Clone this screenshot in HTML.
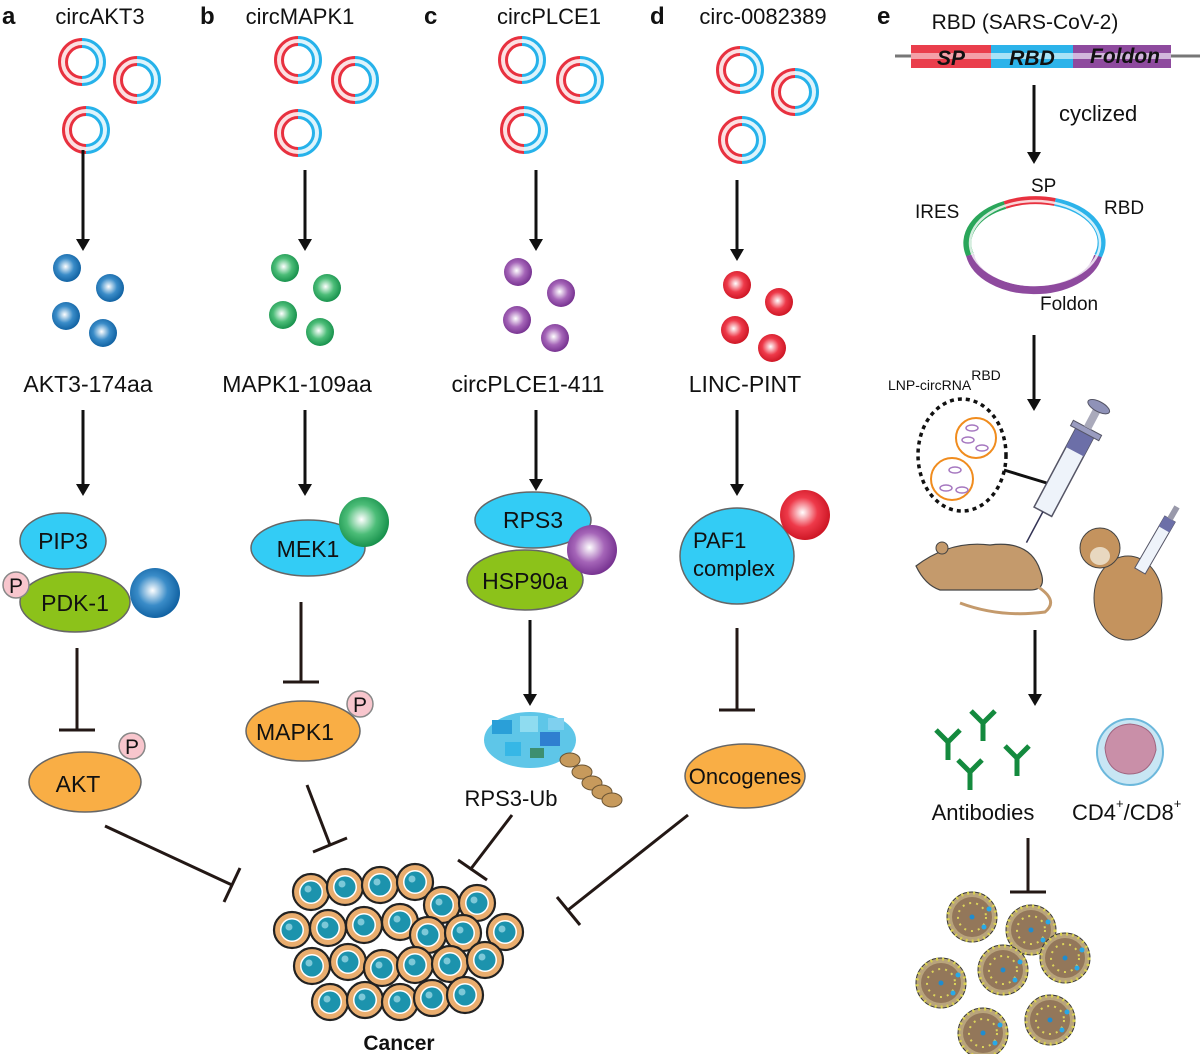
<!DOCTYPE html>
<html><head><meta charset="utf-8"><style>
html,body{margin:0;padding:0;background:#fff}
svg{display:block}
text{font-family:"Liberation Sans",sans-serif;fill:#111}
</style></head><body>
<svg width="1200" height="1054" viewBox="0 0 1200 1054" xmlns="http://www.w3.org/2000/svg">
<defs>
<marker id="ah" markerWidth="12" markerHeight="14" refX="6" refY="7" orient="auto" markerUnits="userSpaceOnUse" viewBox="0 0 12 14"><path d="M0,0 L12,7 L0,14 z" fill="#111"/></marker>
<radialGradient id="gb" cx="0.45" cy="0.45" r="0.6"><stop offset="0" stop-color="#fff"/><stop offset="0.5" stop-color="#3a8cc8"/><stop offset="1" stop-color="#0a5b9c"/></radialGradient>
<radialGradient id="gg" cx="0.45" cy="0.45" r="0.6"><stop offset="0" stop-color="#fff"/><stop offset="0.5" stop-color="#4cbd78"/><stop offset="1" stop-color="#0f8a45"/></radialGradient>
<radialGradient id="gp" cx="0.45" cy="0.45" r="0.6"><stop offset="0" stop-color="#fff"/><stop offset="0.5" stop-color="#a565b8"/><stop offset="1" stop-color="#6f2a8a"/></radialGradient>
<radialGradient id="gr" cx="0.45" cy="0.45" r="0.6"><stop offset="0" stop-color="#fff"/><stop offset="0.5" stop-color="#ee3a4a"/><stop offset="1" stop-color="#c8101e"/></radialGradient>
<g id="ring">
<path d="M0,-19 A19,19 0 0,0 0,19" fill="none" stroke="#e8313f" stroke-width="10"/>
<path d="M0,-19 A19,19 0 0,1 0,19" fill="none" stroke="#26b2ea" stroke-width="10"/>
<circle r="19" fill="none" stroke="#fff" stroke-width="4" opacity="0.85"/>
</g>
<g id="cell"><circle r="18" fill="#e9ad6e" stroke="#222" stroke-width="2.2"/><circle r="12" fill="#fff"/><circle r="10.5" fill="#1c93ad"/><circle cx="-3" cy="-3" r="3.5" fill="#7cc8d8"/></g>
<g id="vir"><circle r="25" fill="#b9a47c" stroke="#333" stroke-width="1"/><circle r="20" fill="#93775a"/><circle r="24" fill="none" stroke="#d8d050" stroke-width="3" stroke-dasharray="2 4"/><circle r="14" fill="none" stroke="#dcd45a" stroke-width="2" stroke-dasharray="2 5"/><circle r="2.5" fill="#1f8ccf"/><circle cx="17" cy="-8" r="2.5" fill="#27a9e8"/><circle cx="12" cy="10" r="2.5" fill="#27a9e8"/></g>
<g id="ab" fill="none" stroke="#148a3e" stroke-width="5"><path d="M0,0 L0,18 M0,0 L-12,-12 M0,0 L12,-12"/></g>
</defs>

<text x="2" y="24" font-size="24" font-weight="bold">a</text>
<text x="200" y="24" font-size="24" font-weight="bold">b</text>
<text x="424" y="24" font-size="24" font-weight="bold">c</text>
<text x="650" y="24" font-size="24" font-weight="bold">d</text>
<text x="877" y="24" font-size="24" font-weight="bold">e</text>

<g font-size="22" text-anchor="middle">
<text x="100" y="24">circAKT3</text>
<text x="300" y="24">circMAPK1</text>
<text x="549" y="24">circPLCE1</text>
<text x="763" y="24">circ-0082389</text>
</g>

<use href="#ring" x="82" y="62"/><use href="#ring" x="137" y="80"/><use href="#ring" x="86" y="130"/>
<use href="#ring" x="298" y="60"/><use href="#ring" x="355" y="80"/><use href="#ring" x="298" y="133"/>
<use href="#ring" x="522" y="60"/><use href="#ring" x="580" y="80"/><use href="#ring" x="524" y="130"/>
<use href="#ring" x="740" y="70"/><use href="#ring" x="795" y="92"/><use href="#ring" x="742" y="140"/>

<g stroke="#111" stroke-width="3" marker-end="url(#ah)">
<line x1="83" y1="150" x2="83" y2="245"/>
<line x1="305" y1="170" x2="305" y2="245"/>
<line x1="536" y1="170" x2="536" y2="245"/>
<line x1="737" y1="180" x2="737" y2="255"/>
<line x1="83" y1="410" x2="83" y2="490"/>
<line x1="305" y1="410" x2="305" y2="490"/>
<line x1="536" y1="410" x2="536" y2="485"/>
<line x1="737" y1="410" x2="737" y2="490"/>
<line x1="530" y1="620" x2="530" y2="700"/>
<line x1="1034" y1="85" x2="1034" y2="158"/>
<line x1="1034" y1="335" x2="1034" y2="405"/>
<line x1="1035" y1="630" x2="1035" y2="700"/>
</g>

<g>
<circle cx="67" cy="268" r="14" fill="url(#gb)"/><circle cx="110" cy="288" r="14" fill="url(#gb)"/><circle cx="66" cy="316" r="14" fill="url(#gb)"/><circle cx="103" cy="333" r="14" fill="url(#gb)"/>
<circle cx="285" cy="268" r="14" fill="url(#gg)"/><circle cx="327" cy="288" r="14" fill="url(#gg)"/><circle cx="283" cy="315" r="14" fill="url(#gg)"/><circle cx="320" cy="332" r="14" fill="url(#gg)"/>
<circle cx="518" cy="272" r="14" fill="url(#gp)"/><circle cx="561" cy="293" r="14" fill="url(#gp)"/><circle cx="517" cy="320" r="14" fill="url(#gp)"/><circle cx="555" cy="338" r="14" fill="url(#gp)"/>
<circle cx="737" cy="285" r="14" fill="url(#gr)"/><circle cx="779" cy="302" r="14" fill="url(#gr)"/><circle cx="735" cy="330" r="14" fill="url(#gr)"/><circle cx="772" cy="348" r="14" fill="url(#gr)"/>
</g>

<g font-size="23" text-anchor="middle">
<text x="88" y="392">AKT3-174aa</text>
<text x="297" y="392">MAPK1-109aa</text>
<text x="528" y="392">circPLCE1-411</text>
<text x="745" y="392">LINC-PINT</text>
</g>

<ellipse cx="63" cy="541" rx="43" ry="28" fill="#33ccf5" stroke="#666" stroke-width="1.5"/>
<text x="63" y="549" font-size="23" text-anchor="middle">PIP3</text>
<ellipse cx="75" cy="602" rx="55" ry="30" fill="#8cc21a" stroke="#666" stroke-width="1.5"/>
<text x="75" y="611" font-size="23" text-anchor="middle">PDK-1</text>
<circle cx="16" cy="585" r="13" fill="#f8c6cd" stroke="#888" stroke-width="1.5"/><text x="16" y="593" font-size="21" text-anchor="middle">P</text>
<circle cx="155" cy="593" r="25" fill="url(#gb)"/>
<g stroke="#231815" stroke-width="3"><line x1="77" y1="648" x2="77" y2="730"/><line x1="59" y1="730" x2="95" y2="730"/></g>
<ellipse cx="85" cy="782" rx="56" ry="30" fill="#f9ae45" stroke="#666" stroke-width="1.5"/>
<text x="78" y="792" font-size="23" text-anchor="middle">AKT</text>
<circle cx="132" cy="746" r="13" fill="#f8c6cd" stroke="#888" stroke-width="1.5"/><text x="132" y="754" font-size="21" text-anchor="middle">P</text>

<ellipse cx="308" cy="548" rx="57" ry="28" fill="#33ccf5" stroke="#666" stroke-width="1.5"/>
<text x="308" y="557" font-size="23" text-anchor="middle">MEK1</text>
<circle cx="364" cy="522" r="25" fill="url(#gg)"/>
<g stroke="#231815" stroke-width="3"><line x1="301" y1="602" x2="301" y2="682"/><line x1="283" y1="682" x2="319" y2="682"/></g>
<ellipse cx="303" cy="731" rx="57" ry="30" fill="#f9ae45" stroke="#666" stroke-width="1.5"/>
<text x="295" y="740" font-size="23" text-anchor="middle">MAPK1</text>
<circle cx="360" cy="704" r="13" fill="#f8c6cd" stroke="#888" stroke-width="1.5"/><text x="360" y="712" font-size="21" text-anchor="middle">P</text>

<ellipse cx="533" cy="520" rx="58" ry="28" fill="#33ccf5" stroke="#666" stroke-width="1.5"/>
<text x="533" y="528" font-size="23" text-anchor="middle">RPS3</text>
<ellipse cx="525" cy="580" rx="58" ry="30" fill="#8cc21a" stroke="#666" stroke-width="1.5"/>
<text x="525" y="589" font-size="23" text-anchor="middle">HSP90a</text>
<circle cx="592" cy="550" r="25" fill="url(#gp)"/>
<g>
<ellipse cx="530" cy="740" rx="46" ry="28" fill="#5ec6e8"/>
<rect x="492" y="720" width="20" height="14" fill="#2a9fd8"/><rect x="520" y="716" width="18" height="16" fill="#8fdcf0"/><rect x="540" y="732" width="20" height="14" fill="#2f7fd0"/><rect x="505" y="742" width="16" height="14" fill="#36b7e6"/><rect x="530" y="748" width="14" height="10" fill="#3d8f70"/><rect x="548" y="718" width="16" height="12" fill="#7fd0ef"/>
<g fill="#c79a5c" stroke="#6b5433" stroke-width="1"><ellipse cx="570" cy="760" rx="10" ry="7"/><ellipse cx="582" cy="772" rx="10" ry="7"/><ellipse cx="592" cy="783" rx="10" ry="7"/><ellipse cx="602" cy="792" rx="10" ry="7"/><ellipse cx="612" cy="800" rx="10" ry="7"/></g>
</g>
<text x="511" y="806" font-size="22" text-anchor="middle">RPS3-Ub</text>

<ellipse cx="737" cy="556" rx="57" ry="48" fill="#33ccf5" stroke="#666" stroke-width="1.5"/>
<text x="693" y="548" font-size="22">PAF1</text>
<text x="693" y="576" font-size="22">complex</text>
<circle cx="805" cy="515" r="25" fill="url(#gr)"/>
<g stroke="#231815" stroke-width="3"><line x1="737" y1="628" x2="737" y2="710"/><line x1="719" y1="710" x2="755" y2="710"/></g>
<ellipse cx="745" cy="776" rx="60" ry="32" fill="#f9ae45" stroke="#666" stroke-width="1.5"/>
<text x="745" y="784" font-size="22" text-anchor="middle">Oncogenes</text>

<g stroke="#231815" stroke-width="3">
<line x1="105" y1="826" x2="232" y2="885"/><line x1="240" y1="868" x2="224" y2="902"/>
<line x1="307" y1="785" x2="330" y2="845"/><line x1="313" y1="852" x2="347" y2="838"/>
<line x1="512" y1="815" x2="470" y2="870"/><line x1="458" y1="860" x2="487" y2="880"/>
<line x1="688" y1="815" x2="568" y2="910"/><line x1="557" y1="897" x2="580" y2="925"/>
</g>

<g>
<use href="#cell" x="311" y="892"/><use href="#cell" x="345" y="887"/><use href="#cell" x="380" y="885"/><use href="#cell" x="415" y="882"/><use href="#cell" x="442" y="905"/><use href="#cell" x="477" y="903"/>
<use href="#cell" x="292" y="930"/><use href="#cell" x="328" y="928"/><use href="#cell" x="364" y="925"/><use href="#cell" x="400" y="922"/><use href="#cell" x="428" y="935"/><use href="#cell" x="463" y="933"/><use href="#cell" x="505" y="932"/>
<use href="#cell" x="312" y="966"/><use href="#cell" x="348" y="962"/><use href="#cell" x="382" y="968"/><use href="#cell" x="415" y="965"/><use href="#cell" x="450" y="964"/><use href="#cell" x="485" y="960"/>
<use href="#cell" x="330" y="1002"/><use href="#cell" x="365" y="1000"/><use href="#cell" x="400" y="1002"/><use href="#cell" x="432" y="998"/><use href="#cell" x="465" y="995"/>
</g>
<text x="399" y="1050" font-size="21" font-weight="bold" text-anchor="middle">Cancer</text>

<text x="1025" y="29" font-size="21" text-anchor="middle">RBD (SARS-CoV-2)</text>
<line x1="895" y1="56" x2="1200" y2="56" stroke="#777" stroke-width="3"/>
<rect x="911" y="45" width="80" height="23" fill="#ea3e4c"/>
<rect x="911" y="53" width="80" height="6" fill="#f4a0a8"/>
<rect x="991" y="45" width="82" height="23" fill="#2cb3ea"/>
<rect x="991" y="53" width="82" height="6" fill="#a8e2f6"/>
<rect x="1073" y="45" width="98" height="23" fill="#8e4a9e"/>
<rect x="1073" y="53" width="98" height="6" fill="#d2b6dc"/>
<g font-size="21" font-weight="bold" font-style="italic" text-anchor="middle">
<text x="951" y="65">SP</text><text x="1032" y="65">RBD</text><text x="1125" y="63">Foldon</text>
</g>
<text x="1059" y="121" font-size="22">cyclized</text>

<g fill="none" stroke-width="8">
<path d="M1005,205 A65,42 0 0,0 970,255" stroke="#2aa65a"/>
<path d="M1005,205 A65,42 0 0,1 1055,202" stroke="#e8313f"/>
<path d="M1055,202 A65,42 0 0,1 1098,256" stroke="#2cb3ea"/>
<path d="M970,255 A65,42 0 0,0 1098,256" stroke="#8e4a9e"/>
<ellipse cx="1035" cy="243" rx="65" ry="42" stroke="#fff" stroke-width="2.5" opacity="0.8"/>
</g>
<g font-size="19"><text x="915" y="218">IRES</text><text x="1031" y="192">SP</text><text x="1104" y="214">RBD</text><text x="1040" y="310">Foldon</text></g>

<text x="888" y="390" font-size="14">LNP-circRNA<tspan dy="-10" font-size="14">RBD</tspan></text>

<ellipse cx="962" cy="455" rx="44" ry="56" fill="none" stroke="#111" stroke-width="3.5" stroke-dasharray="4 4"/>
<circle cx="976" cy="438" r="20" fill="none" stroke="#f08c1e" stroke-width="2"/>
<circle cx="952" cy="479" r="21" fill="none" stroke="#f08c1e" stroke-width="2"/>
<g fill="none" stroke="#a678c0" stroke-width="1.5"><ellipse cx="972" cy="428" rx="6" ry="3"/><ellipse cx="968" cy="440" rx="6" ry="3"/><ellipse cx="982" cy="448" rx="6" ry="3"/><ellipse cx="955" cy="470" rx="6" ry="3"/><ellipse cx="946" cy="488" rx="6" ry="3"/><ellipse cx="962" cy="490" rx="6" ry="3"/></g>
<line x1="1004" y1="470" x2="1050" y2="484" stroke="#111" stroke-width="3"/>
<g transform="translate(1064,472) rotate(28)">
<rect x="-10" y="-45" width="20" height="90" fill="#eef3fa" stroke="#556" stroke-width="1.5"/>
<rect x="-10" y="-45" width="20" height="22" fill="#6c6fa8"/>
<rect x="-16" y="-50" width="32" height="6" fill="#9a9cc0" stroke="#556"/>
<rect x="-4" y="-72" width="8" height="22" fill="#aab"/>
<ellipse cx="0" cy="-74" rx="12" ry="5" fill="#8f92b8" stroke="#556"/>
<line x1="0" y1="45" x2="0" y2="80" stroke="#335" stroke-width="1.5"/>
</g>
<path d="M916,566 Q950,540 990,545 Q1030,540 1040,570 Q1048,590 1030,590 L940,590 Q925,585 916,566 z" fill="#c49a6c" stroke="#444" stroke-width="1.2"/>
<path d="M1035,585 Q1060,600 1045,612 Q1000,618 960,603" fill="none" stroke="#c49a6c" stroke-width="3"/>
<circle cx="942" cy="548" r="6" fill="#c49a6c" stroke="#444"/>
<ellipse cx="1128" cy="598" rx="34" ry="42" fill="#c4935e" stroke="#444" stroke-width="1"/>
<ellipse cx="1100" cy="548" rx="20" ry="20" fill="#c4935e" stroke="#444" stroke-width="1"/>
<ellipse cx="1100" cy="556" rx="10" ry="9" fill="#e8d8c0"/>
<g transform="translate(1155,545) rotate(30)">
<rect x="-6" y="-30" width="12" height="60" fill="#eef3fa" stroke="#556" stroke-width="1"/>
<rect x="-6" y="-30" width="12" height="12" fill="#6c6fa8"/>
<rect x="-3" y="-44" width="6" height="14" fill="#99a"/>
</g>

<use href="#ab" x="948" y="742"/><use href="#ab" x="983" y="723"/><use href="#ab" x="1017" y="758"/><use href="#ab" x="970" y="772"/>
<circle cx="1130" cy="752" r="33" fill="#c8e6f4" stroke="#6cb8dc" stroke-width="2"/>
<path d="M1105,748 Q1108,725 1130,724 Q1155,726 1156,750 Q1150,775 1128,774 Q1107,772 1105,748 z" fill="#c98fa8" stroke="#a06580"/>
<text x="983" y="820" font-size="22" text-anchor="middle">Antibodies</text>
<text x="1072" y="820" font-size="22">CD4<tspan dy="-12" font-size="13">+</tspan><tspan dy="12">/CD8</tspan><tspan dy="-12" font-size="13">+</tspan></text>
<g stroke="#231815" stroke-width="3"><line x1="1028" y1="838" x2="1028" y2="892"/><line x1="1010" y1="892" x2="1046" y2="892"/></g>
<use href="#vir" x="972" y="917"/><use href="#vir" x="1031" y="930"/><use href="#vir" x="1065" y="958"/><use href="#vir" x="1003" y="970"/><use href="#vir" x="941" y="983"/><use href="#vir" x="1050" y="1020"/><use href="#vir" x="983" y="1033"/>
</svg>
</body></html>
